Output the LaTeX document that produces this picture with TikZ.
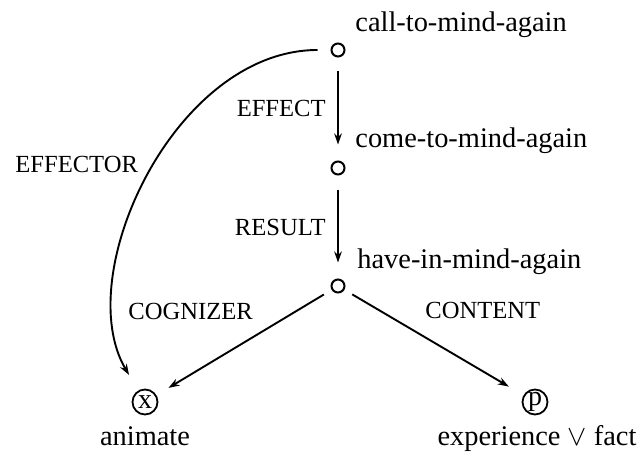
\documentclass[tikz,border=0pt]{standalone}
\usepackage{fontspec}
\setmainfont{Liberation Serif}
\usetikzlibrary{arrows.meta}
\begin{document}
\begin{tikzpicture}[x=0.5pt,y=-0.5pt,
  dot/.style={circle,draw,line width=1pt,inner sep=0pt,minimum size=6.5pt},
  var/.style={circle,draw,line width=0.9pt,inner sep=0pt,minimum size=12.5pt,font=\fontsize{14}{16}\selectfont},
  lbl/.style={font=\fontsize{12.3}{14}\selectfont,inner sep=0pt},
  txt/.style={font=\fontsize{14.2}{16}\selectfont,inner sep=0pt},
  arr/.style={-{Stealth[length=5.5pt,width=3.8pt]},line width=0.95pt}
]
\useasboundingbox (0,0) rectangle (640,454);
\node[dot] (c1) at (338,50) {};
\node[dot] (c2) at (338,168) {};
\node[dot] (c3) at (338,286) {};
\node[var] (x) at (145,402) {x};
\node[var] (p) at (535,402) {p};

\node[txt,anchor=base west] (t1) at (355,32) {call-to-mind-again};
\node[txt,anchor=base west] (t2) at (355,148) {come-to-mind-again};
\node[txt,anchor=base west] (t3) at (357,268) {have-in-mind-again};
\node[txt,anchor=base] (t4) at (145,445) {animate};
\node[txt,anchor=base] (t5) at (537,445) {experience $\vee$ fact};

\node[lbl,anchor=east] (l1) at (326,108) {EFFECT};
\node[lbl,anchor=east] (l2) at (326,227) {RESULT};
\node[lbl,anchor=west] (l3) at (15,164) {EFFECTOR};
\node[lbl,anchor=west] (l4) at (128,311) {COGNIZER};
\node[lbl,anchor=west] (l5) at (425,310) {CONTENT};

\draw[arr,shorten <=7pt,shorten >=8pt] (c1) -- (c2);
\draw[arr,shorten <=7pt,shorten >=8pt] (c2) -- (c3);
\draw[arr,shorten <=4.5pt,shorten >=7pt] (c3) -- (x);
\draw[arr,shorten <=4.5pt,shorten >=8.5pt] (c3) -- (p);
\draw[arr,shorten <=6.5pt,shorten >=9pt] (c1) .. controls (175,50) and (70,275) .. (x);
\end{tikzpicture}
\end{document}
